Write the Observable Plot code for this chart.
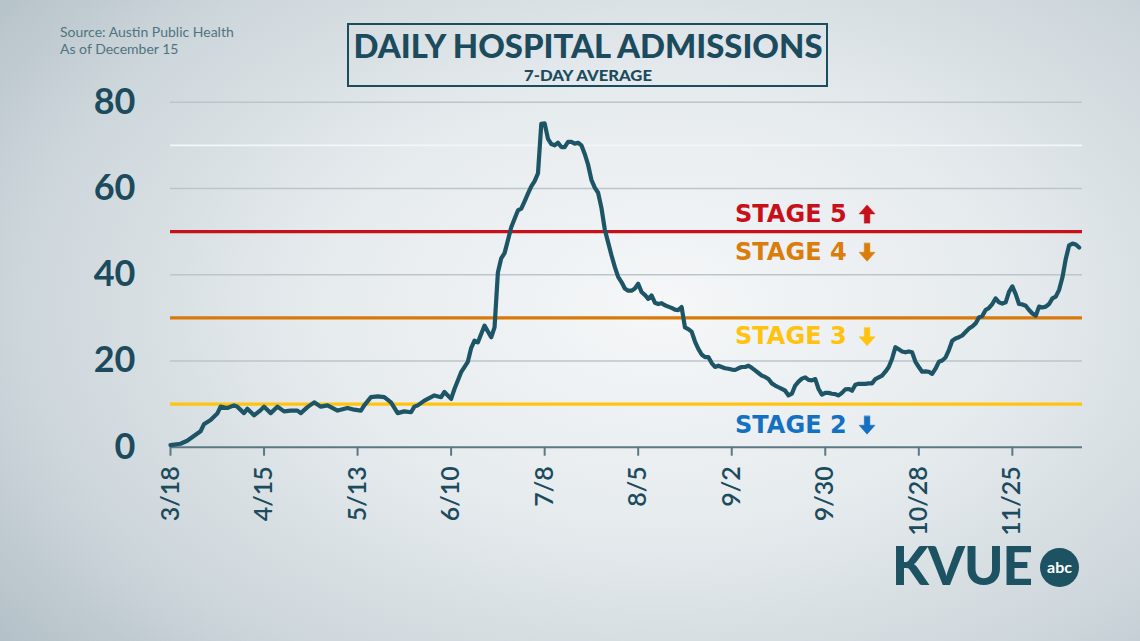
<!DOCTYPE html>
<html>
<head>
<meta charset="utf-8">
<script src="https://cdn.jsdelivr.net/npm/d3@7"></script>
<script src="https://cdn.jsdelivr.net/npm/@observablehq/plot@0.6"></script>
<style>
  html, body { margin: 0; padding: 0; }
  #root {
    position: relative; width: 1140px; height: 641px; overflow: hidden;
    background: radial-gradient(ellipse 75% 85% at 58% 48%, #f5f7f8 0%, #e6ebee 40%, #cdd6db 75%, #b2bfc6 100%);
    font-family: Lato, "Open Sans", sans-serif;
  }
  #chart { position: absolute; left: 0; top: 0; }
  .abs { position: absolute; white-space: nowrap; }
  #titlebox { position: absolute; left: 347px; top: 23px; width: 477px; height: 60px; border: 2.7px solid #1c4d5e; }
  #title { left: 347px; width: 482px; top: 30px; text-align: center; font-size: 32px; line-height: 32px; font-weight: 900; color: #1b4b5c; }
  #subtitle { left: 347px; width: 482px; top: 68px; text-align: center; font-size: 15px; line-height: 15px; font-weight: 900; color: #1b4b5c; }
  #source { left: 60px; top: 23px; font-size: 14px; line-height: 17.3px; color: #4f7480; }
  #kvue { left: 892px; top: 538px; font-size: 53px; line-height: 53px; font-weight: 900; color: #1d5263; letter-spacing: -1px; }
  #abc { position: absolute; left: 1040px; top: 548px; width: 39px; height: 39px; border-radius: 50%; background: #1d5263; color: #fff; font-weight: 700; font-size: 16px; line-height: 38px; text-align: center; }
</style>
</head>
<body>
<div id="root">
  <div id="chart"></div>
  <div id="titlebox"></div>
  <div class="abs" id="title">DAILY HOSPITAL ADMISSIONS</div>
  <div class="abs" id="subtitle">7-DAY AVERAGE</div>
  <div class="abs" id="source">Source: Austin Public Health<br>As of December 15</div>
  <div class="abs" id="kvue">KVUE</div>
  <div id="abc">abc</div>
</div>
<script>
// ---- data (2020, 7-day average of daily admissions) ----
const dateLabels = [
  "3/18","3/21","3/23","3/25","3/27","3/28","3/30","4/1","4/2","4/4","4/6","4/7","4/9","4/10","4/12","4/14","4/15","4/17","4/19","4/21","4/23","4/25","4/26","4/28","4/30",
  "5/2","5/4","5/7","5/10","5/12","5/14","5/15","5/17","5/19","5/21","5/23","5/25","5/27","5/29","5/30","5/31",
  "6/2","6/5","6/7","6/8","6/10","6/11","6/13","6/15","6/16","6/17","6/18","6/20","6/22","6/23","6/24","6/25","6/26","6/27","6/28","6/29","6/30",
  "7/1","7/2","7/3","7/4","7/5","7/6","7/7","7/8","7/9","7/10","7/11","7/12","7/13","7/14","7/15","7/16","7/17","7/18","7/19","7/20","7/21","7/22","7/23","7/24","7/25","7/26","7/27","7/28","7/29","7/30","7/31",
  "8/1","8/2","8/3","8/4","8/5","8/6","8/7","8/8","8/9","8/10","8/11","8/12","8/13","8/14","8/15","8/16","8/17","8/18","8/19","8/20","8/21","8/22","8/23","8/24","8/25","8/26","8/27","8/28","8/29","8/30","8/31",
  "9/1","9/2","9/3","9/4","9/5","9/6","9/7","9/8","9/9","9/10","9/11","9/12","9/13","9/14","9/15","9/16","9/17","9/18","9/19","9/20","9/21","9/22","9/23","9/24","9/25","9/26","9/27","9/28","9/29","9/30",
  "10/1","10/2","10/3","10/4","10/5","10/6","10/7","10/8","10/9","10/10","10/11","10/12","10/13","10/14","10/15","10/16","10/17","10/18","10/19","10/20","10/21","10/22","10/23","10/24","10/25","10/26","10/27","10/28","10/29","10/30","10/31",
  "11/1","11/2","11/3","11/4","11/5","11/6","11/7","11/8","11/9","11/10","11/11","11/12","11/13","11/14","11/15","11/16","11/17","11/18","11/19","11/20","11/21","11/22","11/23","11/24","11/25","11/26","11/27","11/28","11/29","11/30",
  "12/1","12/2","12/3","12/4","12/5","12/6","12/7","12/8","12/9","12/10","12/11","12/12","12/13","12/14","12/15"
];
const admissions = [
  0.5,0.8,1.5,2.6,3.7,5.3,6.3,7.8,9.4,9.1,9.7,9.4,7.9,8.9,7.4,8.6,9.4,7.9,9.4,8.3,8.5,8.5,7.9,9.3,10.4,
  9.4,9.7,8.5,9.1,8.7,8.5,9.7,11.6,11.8,11.6,10.4,7.9,8.3,8.1,9.4,9.7,
  10.8,12.0,11.6,12.8,11.2,13.5,17.4,19.8,23.0,24.7,24.3,28.2,25.5,27.8,40.5,43.8,45.0,48.0,51.0,53.0,54.9,
  55.3,57.0,58.8,60.5,61.7,63.5,75.0,75.1,71.5,70.3,70.0,70.6,69.6,69.6,70.8,70.8,70.4,70.6,70.0,68.0,65.5,62.0,60.2,59.0,55.5,50.5,47.5,44.5,41.8,39.5,38.3,
  36.8,36.3,36.3,36.8,37.9,36.0,35.3,34.4,35.2,33.5,33.2,33.4,32.9,32.6,32.3,31.9,31.8,32.5,27.8,27.4,26.8,24.5,22.8,21.5,20.9,20.9,19.5,18.6,18.9,18.6,18.3,
  18.2,18.0,17.9,18.3,18.6,18.6,18.9,18.4,17.8,17.2,16.6,16.3,15.8,14.8,14.3,13.9,13.5,13.1,12.0,12.4,14.3,15.2,15.9,16.2,15.6,15.5,15.8,13.5,12.2,12.6,
  12.6,12.4,12.3,12.0,12.6,13.4,13.5,13.1,14.5,14.7,14.7,14.7,14.8,14.8,15.8,16.2,16.6,17.5,18.6,20.5,23.2,22.7,22.2,22.0,22.2,22.0,19.8,18.6,17.5,17.6,17.5,
  17.0,18.2,19.8,20.1,20.8,22.5,24.7,25.2,25.5,25.9,26.7,27.5,28.0,28.7,30.1,30.4,31.8,32.3,33.2,34.5,33.6,33.3,33.6,36.0,37.3,35.5,33.2,33.1,32.8,31.8,
  31.0,30.5,32.6,32.4,32.6,33.2,34.5,34.9,36.5,39.4,43.7,46.8,47.2,47.0,46.3
];
const tickLabels = ["3/18","4/15","5/13","6/10","7/8","8/5","9/2","9/30","10/28","11/25"];
const yTickValues = [0, 20, 40, 60, 80];
const gridValues = [10, 20, 30, 40, 50, 60, 70, 80];
const gridColors = ["#bcc5ca","#bcc5ca","#bcc5ca","#bcc5ca","#bcc5ca","#bcc5ca","#f4f6f7","#bcc5ca"];
const stageNames = ["STAGE 5", "STAGE 4", "STAGE 3", "STAGE 2"];
const stageLabelY = [54.1, 45.2, 25.6, 5.1];
const stageArrowDir = ["up", "down", "down", "down"];
const stageColors = ["#c8101a", "#da7d0b", "#ffc20e", "#1470c0"];
const thresholdValues = [50, 30, 10];
const thresholdColors = ["#c8101a", "#d97a08", "#ffc40d"];
const stageLabelDate = "9/3";
const domainStart = "3/18", domainEnd = "12/16";

// ---- build tables ----
const parse = s => { const [m, d] = s.split("/").map(Number); return new Date(Date.UTC(2020, m - 1, d)); };
const series = dateLabels.map((s, i) => ({date: parse(s), value: admissions[i]}));
const grid = gridValues.map((v, i) => ({v, c: gridColors[i]}));
const thresholds = thresholdValues.map((v, i) => ({v, c: thresholdColors[i]}));
const stages = stageNames.map((n, i) => ({name: n, y: stageLabelY[i], rot: stageArrowDir[i] === "up" ? 0 : 180, c: stageColors[i], date: parse(stageLabelDate)}));
const ink = "#1b4b5c";

// block arrow shape (points up before rotation)
const blockArrow = {
  draw(ctx, l) {
    const hw = 8, sw = 2.8, hl = 9;
    ctx.moveTo(-sw, 0);
    ctx.lineTo(-sw, -l + hl);
    ctx.lineTo(-hw, -l + hl);
    ctx.lineTo(0, -l);
    ctx.lineTo(hw, -l + hl);
    ctx.lineTo(sw, -l + hl);
    ctx.lineTo(sw, 0);
    ctx.closePath();
  }
};

function arrowMark() {
  try {
    return Plot.vector(stages, {x: "date", y: "y", rotate: "rot", length: 18, anchor: "middle", shape: blockArrow,
      fill: "c", stroke: "c", strokeWidth: 0.5, dx: 132});
  } catch (e) {
    return Plot.text(stages, {x: "date", y: "y", text: d => d.rot ? "⬇" : "⬆", fill: "c", textAnchor: "middle", dx: 132, fontSize: 30, fontFamily: "DejaVu Sans"});
  }
}

const chart = Plot.plot({
  width: 1140,
  height: 641,
  marginLeft: 170,
  marginRight: 58,
  marginTop: 101.7,
  marginBottom: 194.3,
  style: {background: "transparent", fontFamily: "Lato, sans-serif", color: ink, overflow: "visible"},
  x: {type: "utc", domain: [parse(domainStart), parse(domainEnd)]},
  y: {domain: [0, 80]},
  color: {type: "identity"},
  marks: [
    Plot.ruleY(grid, {y: "v", stroke: "c", strokeWidth: 1.6}),
    Plot.ruleY(thresholds, {y: "v", stroke: "c", strokeWidth: 3.2}),
    Plot.ruleY([0], {stroke: "#5b7883", strokeWidth: 2}),
    Plot.axisY({ticks: yTickValues, tickSize: 0, tickPadding: 35, fontSize: 36, fontWeight: 700, fill: ink}),
    Plot.axisX({ticks: tickLabels.map(parse), tickFormat: d => `${d.getUTCMonth() + 1}/${d.getUTCDate()}`,
      tickRotate: -90, tickSize: 9, tickPadding: 10, fontSize: 25, fontWeight: 600, stroke: "#5b7883", strokeWidth: 2, fill: ink}),
    Plot.line(series, {x: "date", y: "value", stroke: "#1e5566", strokeWidth: 4.2, strokeLinejoin: "round", strokeLinecap: "round"}),
    Plot.text(stages, {x: "date", y: "y", text: "name", fill: "c", textAnchor: "start", fontSize: 24, fontWeight: "bold", fontFamily: "DejaVu Sans"}),
    arrowMark()
  ]
});
document.getElementById("chart").appendChild(chart);

// fit title widths to the reference
function fitWidth(el, target) {
  const r = document.createRange(); r.selectNodeContents(el);
  const w = r.getBoundingClientRect().width;
  if (w > 0) { el.style.transform = `scaleX(${target / w})`; el.style.transformOrigin = "50% 50%"; }
}
fitWidth(document.getElementById("title"), 469);
fitWidth(document.getElementById("subtitle"), 128);
</script>
</body>
</html>
